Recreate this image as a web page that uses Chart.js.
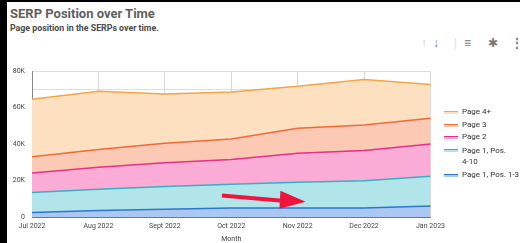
<!DOCTYPE html>
<html lang="en">
<head>
<meta charset="UTF-8">
<title>SERP Position over Time</title>
<script src="https://cdn.jsdelivr.net/npm/chart.js"></script>
<style>
  body { margin: 0; width: 520px; height: 243px; overflow: hidden; background: #fff; font-family: Roboto, sans-serif; position: relative; }
  .frame-l { position: absolute; left: 0; top: 0; width: 7px; height: 243px; background: #000; }
  .frame-t { position: absolute; left: 0; top: 0; width: 520px; height: 2px; background: #000; }
  h1 { position: absolute; left: 10px; top: 6px; margin: 0; font-size: 13px; font-weight: bold; color: #5f5f5f; }
  h2 { position: absolute; left: 10px; top: 23px; margin: 0; font-size: 8.8px; font-weight: bold; color: #4a4a4a; }
  .icons { position: absolute; top: 36px; font-size: 12px; color: #888; }
  #wrap { position: absolute; left: 0; top: 60px; width: 450px; height: 183px; }
  #legend { position: absolute; left: 444px; top: 106px; font-size: 8px; color: #333; }
  #legend div { position: relative; padding-left: 18px; height: 12.5px; line-height: 12.5px; }
  #legend span { position: absolute; left: 0; top: 5px; width: 14px; height: 2px; border-top: 1.5px solid; }
</style>
</head>
<body>
<div class="frame-l"></div><div class="frame-t"></div>
<h1>SERP Position over Time</h1>
<h2>Page position in the SERPs over time.</h2>
<div class="icons" style="left:421px;color:#ccc">&#8593;</div>
<div class="icons" style="left:433px;color:#777">&#8595;</div>
<div class="icons" style="left:454px;color:#ddd">|</div>
<div class="icons" style="left:464px;color:#777">&#8801;</div>
<div class="icons" style="left:488px;color:#777">&#10033;</div>
<div class="icons" style="left:511px;color:#777;font-weight:bold">&#8942;</div>
<div id="wrap"><canvas id="myChart"></canvas></div>
<div id="legend"></div>

<script>
// months on x axis
const months = ['Jul 2022', 'Aug 2022', 'Sept 2022', 'Oct 2022', 'Nov 2022', 'Dec 2022', 'Jan 2023'];

// stacked values (each band, not the running total)
const page1Top3 = [2500, 3600, 4300, 5000, 4900, 4900, 6100];
const page1Pos4to10 = [10900, 11600, 12500, 13000, 14200, 15000, 16300];
const page2 = [10800, 12100, 13000, 13600, 15900, 16600, 17700];
const page3 = [8800, 9700, 10600, 11200, 13700, 14000, 14100];
const page4Plus = [31600, 32000, 27100, 25800, 23100, 25000, 18500];

const yTicks = [0, 20000, 40000, 60000, 80000];

const series = [
  { label: 'Page 1, Pos. 1-3', data: page1Top3, line: '#2d76d2', fill: '#abc8f3' },
  { label: 'Page 1, Pos. 4-10', data: page1Pos4to10, line: '#33b2c4', fill: '#b2e5ea' },
  { label: 'Page 2', data: page2, line: '#e5318b', fill: '#fbacd6' },
  { label: 'Page 3', data: page3, line: '#f06a3a', fill: '#fccab4' },
  { label: 'Page 4+', data: page4Plus, line: '#f4a546', fill: '#fde0c0' }
];

// html legend, top item is the last series
const legend = document.getElementById('legend');
const legendText = {'Page 1, Pos. 4-10': 'Page 1, Pos.<br>4-10'};
series.slice().reverse().forEach(s => {
  const d = document.createElement('div');
  d.innerHTML = '<span style="border-color:' + s.line + ';background:' + s.fill + '"></span>' + (legendText[s.label] || s.label);
  if (legendText[s.label]) { d.style.height = '24px'; d.style.lineHeight = '11.5px'; d.style.paddingTop = '1px'; }
  legend.appendChild(d);
});

// red arrow annotation, placed in data units
const arrowPlugin = {
  id: 'arrow',
  afterDatasetsDraw(chart) {
    const x = chart.scales.x, y = chart.scales.y, ctx = chart.ctx;
    const x0 = x.getPixelForValue(2.86), y0 = y.getPixelForValue(11800);
    const xb = x.getPixelForValue(3.74), yb = y.getPixelForValue(8900);
    const xt = x.getPixelForValue(4.12), yt = y.getPixelForValue(8400);
    ctx.save();
    ctx.strokeStyle = '#f0143c';
    ctx.fillStyle = '#f0143c';
    ctx.lineWidth = 4;
    ctx.beginPath();
    ctx.moveTo(x0, y0);
    ctx.lineTo(xb + 2, yb);
    ctx.stroke();
    ctx.beginPath();
    ctx.moveTo(xb, yb - 10);
    ctx.lineTo(xt, yt);
    ctx.lineTo(xb - 1, yb + 8);
    ctx.closePath();
    ctx.fill();
    ctx.restore();
  }
};

const ctx = document.getElementById('myChart').getContext('2d');
new Chart(ctx, {
  type: 'line',
  data: {
    labels: months,
    datasets: series.map(s => ({
      label: s.label,
      data: s.data,
      borderColor: s.line,
      backgroundColor: s.fill,
      borderWidth: 1.5,
      pointRadius: 0,
      tension: 0,
      fill: true
    }))
  },
  options: {
    responsive: true,
    maintainAspectRatio: false,
    animation: false,
    layout: { padding: { top: 1, right: 18, bottom: 0, left: 0 } },
    plugins: { legend: { display: false }, tooltip: { enabled: false } },
    scales: {
      x: {
        afterFit(scale) { scale.height = 26; },
        grid: { color: '#d8d8d8', drawTicks: false },
        border: { color: '#777' },
        ticks: { color: '#444', font: { family: 'Roboto', size: 7 }, maxRotation: 0, padding: 5 },
        title: { display: true, text: 'Month', color: '#444', font: { family: 'Roboto', size: 7 }, padding: { top: 3, bottom: 0 } }
      },
      y: {
        stacked: true,
        min: 0, max: 80000,
        afterFit(scale) { scale.width = 32; },
        grid: { color: '#dedede', drawTicks: false },
        border: { color: '#888' },
        ticks: {
          stepSize: 10000,
          color: '#444',
          font: { family: 'Roboto', size: 7 },
          padding: 7,
          callback: v => yTicks.includes(v) ? (v === 0 ? '0' : (v / 1000) + 'K') : ''
        }
      }
    }
  },
  plugins: [arrowPlugin]
});
</script>
</body>
</html>
